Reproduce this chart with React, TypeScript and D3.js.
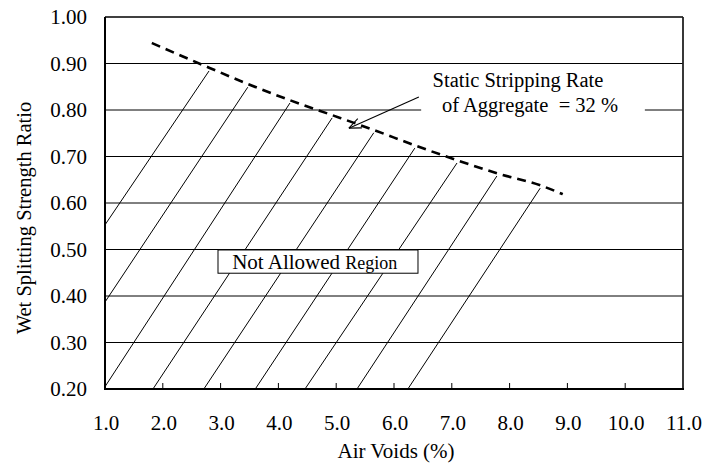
import React from 'react';
import * as d3 from 'd3';

// Air voids (%) on x, wet splitting strength ratio on y
const xTicks = [1, 2, 3, 4, 5, 6, 7, 8, 9, 10, 11];
const yTicks = [0.2, 0.3, 0.4, 0.5, 0.6, 0.7, 0.8, 0.9, 1.0];

// dashed boundary: static stripping rate of aggregate = 32 %
const stripX = [1.81, 2.8, 3.47, 4.2, 4.93, 5.65, 6.36, 7.09, 7.78, 8.53, 8.92];
const stripY = [0.944, 0.891, 0.856, 0.821, 0.789, 0.757, 0.724, 0.692, 0.664, 0.638, 0.619];

// hatch lines of the not allowed region
const hatchTopX = [2.8, 3.47, 4.2, 4.93, 5.65, 6.36, 7.09, 7.78, 8.53];
const hatchTopY = [0.884, 0.849, 0.815, 0.783, 0.751, 0.718, 0.686, 0.658, 0.632];
const hatchBaseX = [1.0, 1.0, 1.0, 1.83, 2.71, 3.6, 4.46, 5.36, 6.24];
const hatchBaseY = [0.553, 0.387, 0.205, 0.2, 0.2, 0.2, 0.2, 0.2, 0.2];

const W = 707;
const H = 468;
const margin = { top: 17, right: 24, bottom: 79, left: 105 };
const font = "'Liberation Serif', 'Times New Roman', Times, serif";

export default function App() {
  const x = d3.scaleLinear().domain([1, 11]).range([margin.left, W - margin.right]);
  const y = d3.scaleLinear().domain([0.2, 1.0]).range([H - margin.bottom, margin.top]);

  const stripLine = d3
    .line<number>()
    .x((d, i) => x(stripX[i]))
    .y((d, i) => y(stripY[i]))
    .curve(d3.curveMonotoneX)(stripX);

  // arrow pointing at the dashed curve
  const ax0 = x(6.43), ay0 = y(0.828);
  const ax1 = x(5.22), ay1 = y(0.761);
  const ang = Math.atan2(ay0 - ay1, ax0 - ax1);
  const head = 13;
  const spread = 0.4;

  const x0 = x(1), x1 = x(11), yb = y(0.2), yt = y(1.0);

  return (
    <svg width={W} height={H}
      style={{ position: 'absolute', left: 0, top: 0, background: '#fff', fontFamily: font }}>
      {/* grid lines */}
      {yTicks.slice(1).map(t => (
        <line key={t} x1={x0} x2={x1} y1={y(t)} y2={y(t)} stroke="#000"
          strokeWidth={t === 1.0 ? 1.6 : 1} />
      ))}

      {/* hatch lines */}
      {hatchTopX.map((d, i) => (
        <line key={i} x1={x(hatchBaseX[i])} y1={y(hatchBaseY[i])} x2={x(d)} y2={y(hatchTopY[i])}
          stroke="#000" strokeWidth={1} />
      ))}

      {/* dashed boundary */}
      <path d={stripLine || ''} fill="none" stroke="#000" strokeWidth={2.6} strokeDasharray="9,6" />

      {/* annotation text with white backing */}
      <rect x={x(6.47)} y={y(0.892)} width={x(10.34) - x(6.47)} height={y(0.783) - y(0.892)} fill="#fff" />
      <text x={518} y={y(0.8) - 23} fontSize={20.5} textAnchor="middle">Static Stripping Rate</text>
      <text x={530} y={y(0.8) + 2} fontSize={20.5} textAnchor="middle">
        of Aggregate {'\u00A0'}= 32 %
      </text>
      <line x1={ax0} y1={ay0} x2={ax1} y2={ay1} stroke="#000" strokeWidth={1.1} />
      <line x1={ax1} y1={ay1} x2={ax1 + head * Math.cos(ang + spread)} y2={ay1 + head * Math.sin(ang + spread)}
        stroke="#000" strokeWidth={1.1} />
      <line x1={ax1} y1={ay1} x2={ax1 + head * Math.cos(ang - spread)} y2={ay1 + head * Math.sin(ang - spread)}
        stroke="#000" strokeWidth={1.1} />

      {/* not allowed region label */}
      <rect x={x(2.955)} y={y(0.499)} width={x(6.415) - x(2.955)} height={y(0.449) - y(0.499)}
        fill="#fff" stroke="#000" strokeWidth={1} />
      <text x={x(3.2)} y={y(0.457)} fontSize={21}>
        Not Allowed <tspan fontSize={18}>Region</tspan>
      </text>

      {/* axes */}
      <line x1={x0} x2={x0} y1={yt} y2={yb + 1} stroke="#000" strokeWidth={2} />
      <line x1={x1} x2={x1} y1={yt} y2={yb + 1} stroke="#222" strokeWidth={1.8} />
      <line x1={x0 - 1} x2={x1 + 1} y1={yb} y2={yb} stroke="#000" strokeWidth={2} />
      {xTicks.slice(1, -1).map(t => (
        <line key={t} x1={x(t)} x2={x(t)} y1={yb} y2={yb - 6} stroke="#000" strokeWidth={1} />
      ))}

      {/* tick labels */}
      {yTicks.map(t => (
        <text key={t} x={87} y={y(t)} dy="0.35em" fontSize={21} textAnchor="end">{t.toFixed(2)}</text>
      ))}
      {xTicks.map(t => (
        <text key={t} x={x(t) + 1} y={430} fontSize={21} textAnchor="middle">{t.toFixed(1)}</text>
      ))}

      {/* axis titles */}
      <text x={(x0 + x1) / 2 + 2} y={458} fontSize={21} textAnchor="middle">Air Voids (%)</text>
      <text transform={`translate(31,${218}) rotate(-90)`} fontSize={20.5} textAnchor="middle">
        Wet Splitting Strength Ratio
      </text>
    </svg>
  );
}
